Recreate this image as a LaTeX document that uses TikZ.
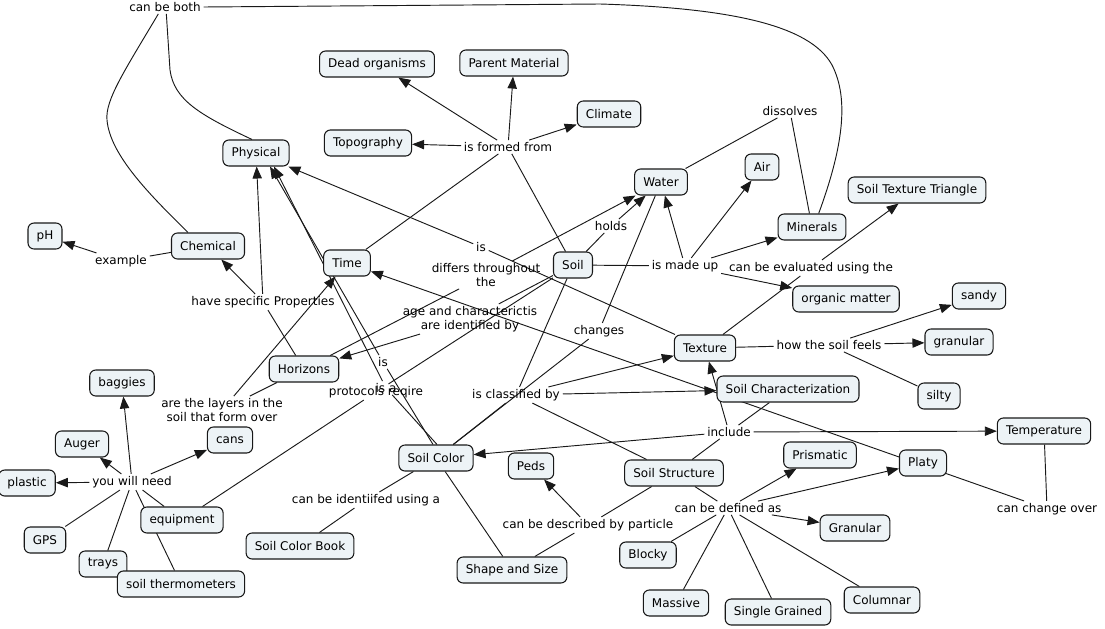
\documentclass[tikz,border=0pt]{standalone}
\usepackage{fontspec}
\setmainfont{DejaVu Sans}
\usetikzlibrary{arrows.meta}
\pgfdeclarelayer{bg}
\pgfsetlayers{bg,main}
\definecolor{cfill}{RGB}{237,243,246}
\definecolor{cline}{RGB}{25,25,25}
\begin{document}
\begin{tikzpicture}[x=0.75pt,y=-0.75pt,
 cpt/.style={draw=cline,line width=0.8pt,rounded corners=4.5pt,fill=cfill,inner xsep=6.5pt,inner ysep=0pt,minimum height=19.5pt,font=\fontsize{9}{10.8}\selectfont},
 lbl/.style={inner xsep=2pt,inner ysep=1.5pt,align=center,font=\fontsize{9}{10.5}\selectfont},
 ln/.style={draw=cline,line width=0.7pt},
 ar/.style={ln,-{Triangle[length=9pt,width=7pt]}}
]
\useasboundingbox (0,0) rectangle (1105,628);
% concepts
\node[cpt] (deado) at (377,64) {Dead organisms};
\node[cpt] (parent) at (514,63) {Parent Material};
\node[cpt] (climate) at (609,114) {Climate};
\node[cpt] (topo) at (368,143) {Topography};
\node[cpt] (phys) at (256,153) {Physical};
\node[cpt] (water) at (661,182) {Water};
\node[cpt] (air) at (762,167) {Air};
\node[cpt] (stt) at (917,190) {Soil Texture Triangle};
\node[cpt] (minerals) at (812,227) {Minerals};
\node[cpt] (ph) at (45,236) {pH};
\node[cpt] (chem) at (208,246) {Chemical};
\node[cpt] (time) at (347,263) {Time};
\node[cpt] (soil) at (573,265) {Soil};
\node[cpt] (om) at (846,299) {organic matter};
\node[cpt] (sandy) at (979,296) {sandy};
\node[cpt] (texture) at (705,348) {Texture};
\node[cpt] (granular) at (959,342) {granular};
\node[cpt] (horizons) at (304,369) {Horizons};
\node[cpt] (sc) at (788,389) {Soil Characterization};
\node[cpt] (baggies) at (122,383) {baggies};
\node[cpt] (silty) at (939,396) {silty};
\node[cpt] (auger) at (82,444) {Auger};
\node[cpt] (cans) at (230,440) {cans};
\node[cpt] (temp) at (1044,431) {Temperature};
\node[cpt] (scolor) at (436,458) {Soil Color};
\node[cpt] (peds) at (531,466) {Peds};
\node[cpt] (sstruct) at (674,473) {Soil Structure};
\node[cpt] (prism) at (820,455) {Prismatic};
\node[cpt] (platy) at (923,463) {Platy};
\node[cpt] (plastic) at (27,483) {plastic};
\node[cpt] (equip) at (182,520) {equipment};
\node[cpt] (gps) at (45,540) {GPS};
\node[cpt] (gran2) at (855,528) {Granular};
\node[cpt] (scb) at (300,546) {Soil Color Book};
\node[cpt] (blocky) at (648,555) {Blocky};
\node[cpt] (trays) at (103,564) {trays};
\node[cpt] (sthermo) at (181,584) {soil thermometers};
\node[cpt] (shape) at (512,570) {Shape and Size};
\node[cpt] (massive) at (676,603) {Massive};
\node[cpt] (single) at (778,612) {Single Grained};
\node[cpt] (columnar) at (882,600) {Columnar};
% linking phrases
\node[lbl] (cbb) at (165,7) {can be both};
\node[lbl] (formed) at (508,147) {is formed from};
\node[lbl] (dissolves) at (790,111) {dissolves};
\node[lbl] (holds) at (611,226) {holds};
\node[lbl] (is1) at (481,247) {is};
\node[lbl] (differs) at (486,275) {differs throughout\\the};
\node[lbl] (madeup) at (685,266) {is made up};
\node[lbl] (evaluated) at (811,268) {can be evaluated using the};
\node[lbl] (example) at (121,261) {example};
\node[lbl] (hsp) at (263,302) {have specific Properties};
\node[lbl] (agechar) at (470,319) {age and characterictis\\are identified by};
\node[lbl] (changes) at (599,331) {changes};
\node[lbl] (feels) at (829,345) {how the soil feels};
\node[lbl] (is2) at (383,362) {is};
\node[lbl] (isa) at (386,388) {is a};
\node[lbl] (protocols) at (376,392) {protocols reqire};
\node[lbl] (layers) at (222,410) {are the layers in the\\soil that form over};
\node[lbl] (classified) at (516,395) {is classified by};
\node[lbl] (include) at (729,432) {include};
\node[lbl] (youneed) at (132,482) {you will need};
\node[lbl] (identified) at (366,500) {can be identiifed using a};
\node[lbl] (defined) at (728,508) {can be defined as};
\node[lbl] (described) at (588,525) {can be described by particle};
\node[lbl] (changeover) at (1047,509) {can change over};
% connectors
\begin{pgfonlayer}{bg}
\draw[ln] (soil) -- (formed);
\draw[ln] (time) -- (formed);
\draw[ar] (formed) -- (deado);
\draw[ar] (formed) -- (parent);
\draw[ar] (formed) -- (climate);
\draw[ar] (formed) -- (topo);
\draw[ln] ([xshift=5pt]minerals.north) .. controls (842,150) and (850,100) .. (832,65) .. controls (810,25) and (730,8) .. (600,4) -- (cbb.east);
\draw[ln] ([xshift=1pt]cbb.south) -- (170,70) .. controls (174,100) and (200,115) .. ([xshift=-3pt]phys.north);
\draw[ln] ([xshift=-5pt]cbb.south) .. controls (125,70) and (105,100) .. (107,120) .. controls (110,155) and (150,195) .. ([xshift=-15pt]chem.north);
\draw[ln] (water) -- (dissolves);
\draw[ln] (dissolves) -- (minerals);
\draw[ln] (soil) -- (holds);
\draw[ar] (holds) -- (water);
\draw[ln] (horizons) -- (differs);
\draw[ar] (differs) -- (water);
\draw[ln] (soil) -- (madeup);
\draw[ar] (madeup) -- (water);
\draw[ar] (madeup) -- (air);
\draw[ar] (madeup) -- (minerals);
\draw[ar] (madeup) -- (om);
\draw[ln] (texture) -- (evaluated);
\draw[ar] (evaluated) -- (stt);
\draw[ln] (texture) -- (is1);
\draw[ar] (is1) -- (phys);
\draw[ln] (texture) -- (feels);
\draw[ar] (feels) -- (sandy);
\draw[ar] (feels) -- (granular);
\draw[ln] (feels) -- (silty);
\draw[ln] (chem) -- (example);
\draw[ar] (example) -- (ph);
\draw[ln] (horizons) -- (hsp);
\draw[ar] (hsp) -- (chem);
\draw[ar] (hsp) -- (phys);
\draw[ln] ([xshift=-2.25pt]scolor.north) -- (is2);
\draw[ar] (is2) -- ([xshift=10.5pt]phys.south);
\draw[ln] ([xshift=0.75pt]scolor.north) -- (isa);
\draw[ar] (isa) -- ([xshift=13.5pt]phys.south);
\draw[ln] (equip) -- (protocols);
\draw[ln] (protocols) -- (soil);
\draw[ln] (soil) -- (agechar);
\draw[ar] (agechar) -- (horizons);
\draw[ln] (horizons) -- (layers);
\draw[ar] (layers) -- (time);
\draw[ln] (water) -- (changes);
\draw[ln] (changes) -- (scolor);
\draw[ln] (soil) -- (classified);
\draw[ln] (scolor) -- (classified);
\draw[ln] (sstruct) -- (classified);
\draw[ar] (classified) -- (texture);
\draw[ar] (classified) -- (sc);
\draw[ln] (temp) -- (changeover);
\draw[ar] (changeover) -- (time);
\draw[ln] (sc) -- (include);
\draw[ar] (include) -- (temp);
\draw[ar] (include) -- (scolor);
\draw[ar] (include) -- (texture);
\draw[ln] (include) -- (sstruct);
\draw[ln] (sstruct) -- (described);
\draw[ar] (described) -- (peds);
\draw[ln] (described) -- (shape);
\draw[ln] (scolor) -- (shape);
\draw[ln] (sstruct) -- (defined);
\draw[ar] (defined) -- (prism);
\draw[ar] (defined) -- (platy);
\draw[ar] (defined) -- (gran2);
\draw[ln] (defined) -- (blocky);
\draw[ln] (defined) -- (massive);
\draw[ln] (defined) -- (single);
\draw[ln] (defined) -- (columnar);
\draw[ln] (scolor) -- (identified);
\draw[ln] (identified) -- (scb);
\draw[ln] (equip) -- (youneed);
\draw[ar] (youneed) -- (baggies);
\draw[ar] (youneed) -- (auger);
\draw[ar] (youneed) -- (plastic);
\draw[ar] (youneed) -- (cans);
\draw[ln] (youneed) -- (gps);
\draw[ln] (youneed) -- (trays);
\draw[ln] (youneed) -- (sthermo);
\end{pgfonlayer}
\end{tikzpicture}
\end{document}
